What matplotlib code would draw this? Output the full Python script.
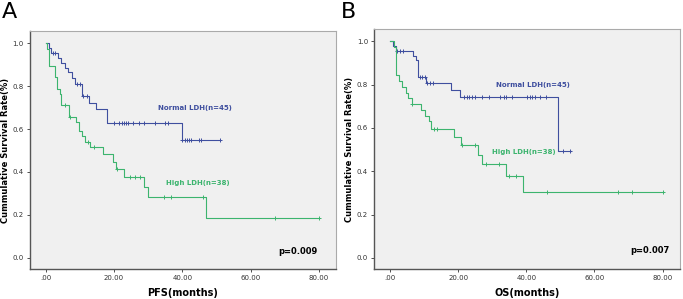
import matplotlib.pyplot as plt
import numpy as np

# Panel A (PFS) - step curves: (time, survival) after each event
a_norm_t = [0, 1.0, 1.5, 3.6, 4.6, 5.6, 6.6, 7.6, 8.6, 10.6, 12.7, 14.8, 17.9, 39.9, 51.0]
a_norm_s = [1.0, 0.978, 0.956, 0.933, 0.910, 0.887, 0.864, 0.840, 0.809, 0.754, 0.723, 0.692, 0.627, 0.549, 0.549]
a_norm_cens = [2.0, 2.7, 9.2, 10.0, 11.0, 12.0, 19.9, 21.5, 22.2, 22.8, 23.4, 24.1, 25.5, 27.3,
               28.8, 31.9, 34.8, 35.8, 40.0, 40.7, 41.4, 41.9, 42.6, 44.9, 45.6, 50.9]

a_high_t = [0, 0.5, 0.9, 2.6, 3.3, 4.1, 4.6, 6.8, 9.0, 9.7, 10.6, 11.6, 13.1, 16.8, 19.7, 20.7,
            22.9, 28.8, 29.8, 47.0, 80.0]
a_high_s = [1.0, 0.974, 0.895, 0.842, 0.789, 0.763, 0.712, 0.658, 0.631, 0.592, 0.566, 0.540,
            0.515, 0.484, 0.448, 0.412, 0.375, 0.328, 0.281, 0.187, 0.187]
a_high_cens = [5.5, 7.0, 12.3, 14.0, 21.0, 24.8, 26.2, 27.5, 34.6, 36.8, 45.9, 67.0, 80.0]

# Panel B (OS)
b_norm_t = [0, 1.0, 1.8, 6.9, 7.5, 8.2, 10.5, 17.8, 20.5, 49.2, 53.0]
b_norm_s = [1.0, 0.978, 0.956, 0.933, 0.911, 0.834, 0.805, 0.775, 0.743, 0.495, 0.495]
b_norm_cens = [2.2, 3.0, 3.8, 8.8, 9.5, 10.2, 10.9, 11.7, 12.5, 21.7, 22.5, 23.3, 24.1, 24.9,
               27.1, 29.0, 32.2, 33.4, 34.2, 35.9, 40.3, 41.0, 41.8, 42.6, 44.1, 45.9, 50.7, 52.9]

b_high_t = [0, 1.2, 1.8, 2.6, 3.6, 4.6, 5.2, 6.5, 9.0, 10.4, 11.4, 12.1, 18.7, 20.9, 25.8, 27.0,
            34.0, 38.9, 80.0]
b_high_s = [1.0, 0.974, 0.842, 0.816, 0.789, 0.763, 0.737, 0.710, 0.684, 0.657, 0.630, 0.593,
            0.559, 0.521, 0.475, 0.432, 0.378, 0.302, 0.302]
b_high_cens = [6.5, 13.0, 13.8, 21.0, 25.0, 28.3, 32.0, 35.0, 37.0, 46.1, 67.0, 70.9, 80.0]

xticks = [0, 20, 40, 60, 80]
xticklabels = [".00", "20.00", "40.00", "60.00", "80.00"]
yticks = [0.0, 0.2, 0.4, 0.6, 0.8, 1.0]

blue = "#3f4f9f"
green = "#3cb46e"


def surv_at(t, ts, ss):
    i = np.searchsorted(ts, t, side="right") - 1
    return ss[max(i, 0)]


def km(ax, ts, ss, cens, color):
    ax.step(ts, ss, where="post", color=color, lw=0.8)
    cy = [surv_at(c, ts, ss) for c in cens]
    ax.plot(cens, cy, ls="none", marker="+", ms=3.5, mew=0.7, color=color)


def setup(ax, xlabel, ylim):
    ax.set_facecolor("#f0f0f0")
    ax.set_xlim(-4.6, 85)
    ax.set_ylim(*ylim)
    ax.set_xticks(xticks)
    ax.set_xticklabels(xticklabels)
    ax.set_yticks(yticks)
    ax.set_yticklabels(["%.1f" % y for y in yticks])
    ax.tick_params(labelsize=5, length=2.5, width=0.6, pad=2, colors="#333333")
    for side in ["left", "bottom"]:
        ax.spines[side].set_color("#555555")
        ax.spines[side].set_linewidth(1.0)
    for side in ["top", "right"]:
        ax.spines[side].set_color("#aaaaaa")
        ax.spines[side].set_linewidth(0.8)
    ax.set_xlabel(xlabel, fontsize=7, fontweight="bold", labelpad=5)
    ax.set_ylabel("Cummulative Survival Rate(%)", fontsize=6, fontweight="bold", labelpad=2)


fig = plt.figure(figsize=(6.83, 2.99), dpi=100)
ax1 = fig.add_axes([0.044, 0.100, 0.448, 0.796])
ax2 = fig.add_axes([0.548, 0.100, 0.447, 0.802])

setup(ax1, "PFS(months)", (-0.053, 1.057))
km(ax1, a_norm_t, a_norm_s, a_norm_cens, blue)
km(ax1, a_high_t, a_high_s, a_high_cens, green)
ax1.text(33, 0.70, "Normal LDH(n=45)", color=blue, fontsize=5, fontweight="bold", va="center")
ax1.text(35.3, 0.347, "High LDH(n=38)", color=green, fontsize=5, fontweight="bold", va="center")
ax1.text(68, 0.031, "p=0.009", fontsize=6, fontweight="bold", va="center")

setup(ax2, "OS(months)", (-0.052, 1.055))
km(ax2, b_norm_t, b_norm_s, b_norm_cens, blue)
km(ax2, b_high_t, b_high_s, b_high_cens, green)
ax2.text(31, 0.80, "Normal LDH(n=45)", color=blue, fontsize=5, fontweight="bold", va="center")
ax2.text(30, 0.49, "High LDH(n=38)", color=green, fontsize=5, fontweight="bold", va="center")
ax2.text(70.5, 0.035, "p=0.007", fontsize=6, fontweight="bold", va="center")

# Panel letters
fig.text(0.003, 0.926, "A", fontsize=16, va="bottom", ha="left")
fig.text(0.499, 0.926, "B", fontsize=16, va="bottom", ha="left")

fig.savefig("out.png", dpi=100)
